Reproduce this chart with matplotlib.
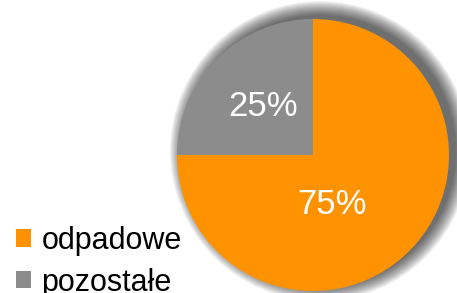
import matplotlib
matplotlib.use("Agg")
import matplotlib.pyplot as plt
from matplotlib.patches import Circle, Patch

labels = ["odpadowe", "pozostałe"]
shares = [75, 25]
colors = ["#FF9200", "#8C8C8C"]

plt.rcParams['font.family'] = ['Liberation Sans', 'DejaVu Sans']

W, H = 457, 293
fig = plt.figure(figsize=(W / 100, H / 100), dpi=100)
ax = fig.add_axes([0, 0, 1, 1])

cx, cy, r = 313, H - 155, 136

# soft shadow behind the pie (offset up-right)
for k in range(14, -1, -1):
    ax.add_patch(Circle((cx + 7, cy + 4), r + k, color="black",
                        alpha=0.05, lw=0, zorder=0))

wedges, _, autotexts = ax.pie(shares, colors=colors, startangle=90,
                              counterclock=False, center=(cx, cy), radius=r,
                              autopct='%d%%', pctdistance=0.5,
                              wedgeprops=dict(linewidth=0),
                              textprops=dict(color="white", fontsize=25))
for w in wedges:
    w.set_zorder(2)
autotexts[0].set_position((cx + 19, cy - 50))
autotexts[1].set_position((cx - 50, cy + 48))
for t in autotexts:
    t.set_zorder(3)

ax.set_xlim(0, W)
ax.set_ylim(0, H)
ax.set_aspect('equal')
ax.axis('off')

handles = [Patch(facecolor=c, edgecolor='none') for c in colors]
fig.legend(handles, labels, loc='upper left', bbox_to_anchor=(16 / W, 1 - 226 / H),
           frameon=False, fontsize=22, handlelength=0.5, handleheight=0.5,
           handletextpad=0.33, labelspacing=0.38, borderpad=0, borderaxespad=0)

fig.savefig("out.png", dpi=100, facecolor="white")
